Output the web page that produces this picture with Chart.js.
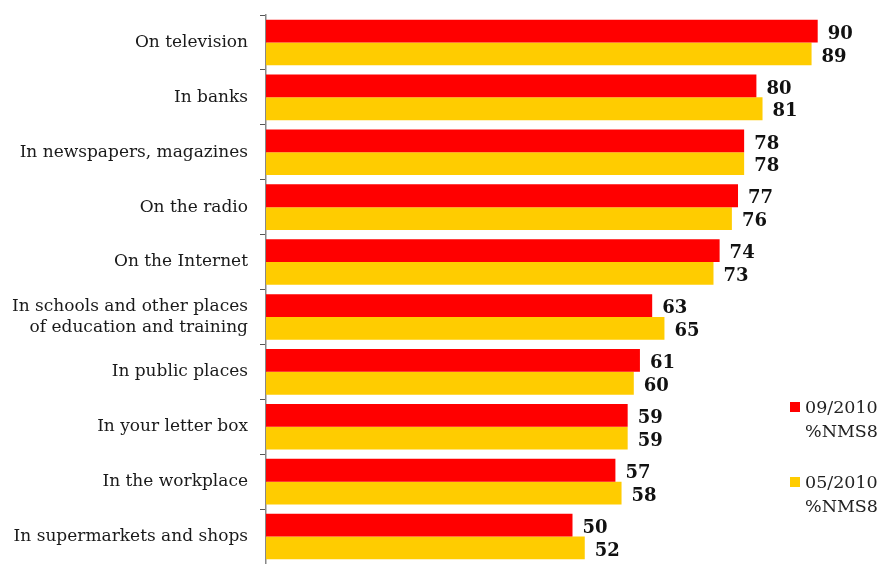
<!DOCTYPE html>
<html>
<head>
<meta charset="utf-8">
<script src="https://cdn.jsdelivr.net/npm/chart.js@4/dist/chart.umd.min.js"></script>
<style>
  html, body { margin: 0; padding: 0; background: #fff; }
  #wrap { position: relative; width: 885px; height: 564px; }
</style>
</head>
<body>
<div id="wrap"><canvas id="chart" width="885" height="564"></canvas></div>
<script>
// chart data
const categories = [
    'On television',
    'In banks',
    'In newspapers, magazines',
    'On the radio',
    'On the Internet',
    ['In schools and other places', 'of education and training'],
    'In public places',
    'In your letter box',
    'In the workplace',
    'In supermarkets and shops'
];
const seriesNames = ['09/2010 %NMS8', '05/2010 %NMS8'];
const sep2010 = [90, 80, 78, 77, 74, 63, 61, 59, 57, 50];
const may2010 = [89, 81, 78, 76, 73, 65, 60, 59, 58, 52];

const serif = "'DejaVu Serif', 'Liberation Serif', serif";

// value labels next to each bar
const valueLabels = {
    id: 'valueLabels',
    afterDatasetsDraw(chart) {
        const ctx = chart.ctx;
        ctx.save();
        ctx.font = 'bold 18px ' + serif;
        ctx.fillStyle = '#111';
        ctx.textAlign = 'left';
        ctx.textBaseline = 'middle';
        chart.data.datasets.forEach((ds, i) => {
            chart.getDatasetMeta(i).data.forEach((bar, j) => {
                ctx.fillText(ds.data[j], bar.x + 10, bar.y + 3);
            });
        });
        ctx.restore();
    }
};

// legend at the right, two lines per entry
const sideLegend = {
    id: 'sideLegend',
    afterDraw(chart) {
        const ctx = chart.ctx;
        ctx.save();
        ctx.font = '17.5px ' + serif;
        ctx.textBaseline = 'alphabetic';
        const tops = [402, 477];
        chart.data.datasets.forEach((ds, i) => {
            const y = tops[i];
            ctx.fillStyle = ds.backgroundColor;
            ctx.fillRect(790, y, 10, 10);
            ctx.fillStyle = '#222';
            const parts = ds.label.split(' ');
            ctx.fillText(parts[0], 805, y + 11);
            ctx.fillText(parts[1], 805, y + 35);
        });
        ctx.restore();
    }
};

new Chart(document.getElementById('chart').getContext('2d'), {
    type: 'bar',
    data: {
        labels: categories,
        datasets: [
            { label: seriesNames[0], data: sep2010, backgroundColor: '#FF0000' },
            { label: seriesNames[1], data: may2010, backgroundColor: '#FFCC00' }
        ]
    },
    options: {
        indexAxis: 'y',
        responsive: false,
        animation: false,
        layout: { padding: { top: 15, right: 6, bottom: -4, left: 0 } },
        datasets: { bar: { categoryPercentage: 0.83, barPercentage: 1.0 } },
        plugins: { legend: { display: false }, tooltip: { enabled: false } },
        scales: {
            x: { display: false, min: 0, max: 100 },
            y: {
                afterFit(scale) {
                    scale.width = 266;
                    scale.paddingTop = 0;
                    scale.paddingBottom = 0;
                },
                border: { display: true, color: '#888', width: 1.5 },
                grid: { drawOnChartArea: false, tickLength: 6, color: '#555', offset: true },
                ticks: {
                    padding: 12,
                    color: '#1a1a1a',
                    font: { family: serif, size: 17 }
                }
            }
        }
    },
    plugins: [valueLabels, sideLegend]
});
</script>
</body>
</html>
